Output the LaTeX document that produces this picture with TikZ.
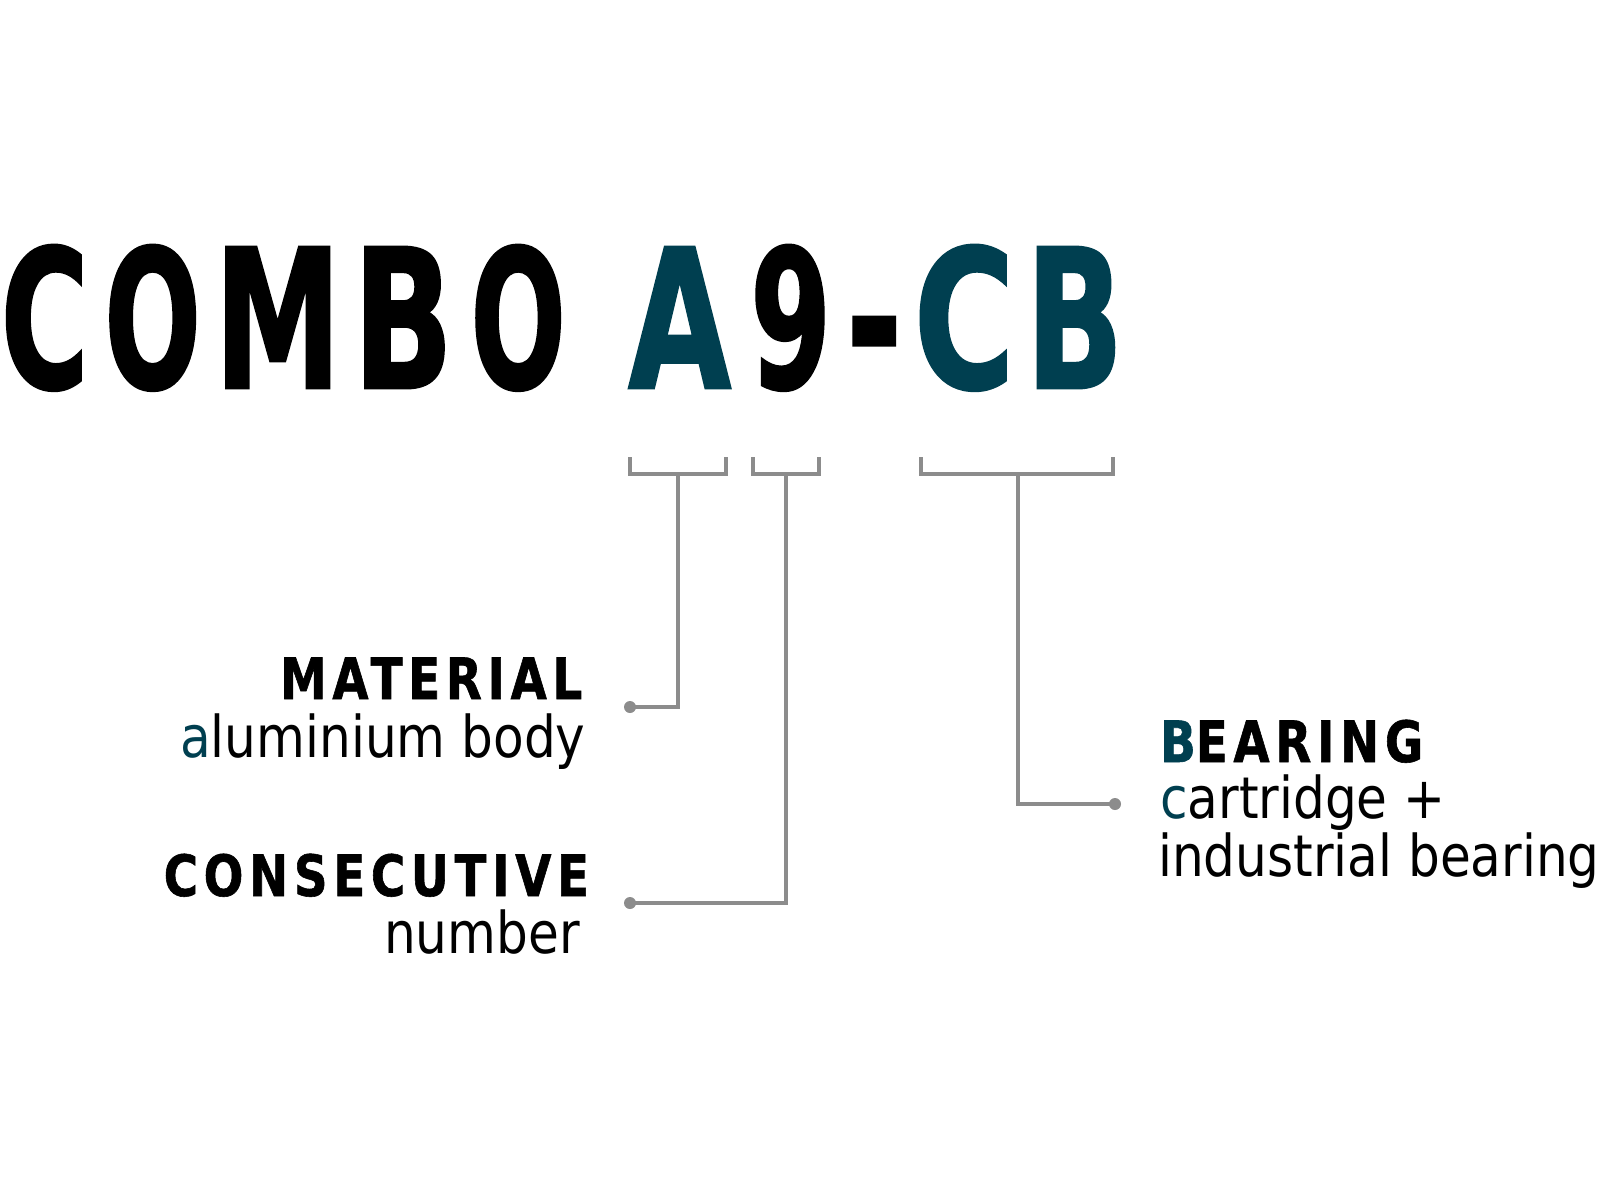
\documentclass[tikz,border=0pt]{standalone}
\usepackage{fontspec}
\usepackage{graphicx}
\newfontfamily\bigfont{DejaVu Sans}[FakeBold=1.5]
\newfontfamily\hdfont{DejaVu Sans}[FakeStretch=0.82,LetterSpace=10,FakeBold=1]
\newfontfamily\txfont{DejaVu Sans}[FakeStretch=0.87]
\definecolor{teal}{HTML}{003F50}
\definecolor{linegray}{HTML}{8C8C8C}
\newcommand\tlet[4]{\rlap{\hspace*{#1pt}\resizebox{#2pt}{#3pt}{#4}}}
\tikzset{
  brk/.style={draw=linegray, line width=3.4pt, line join=miter},
  dotn/.style={circle, fill=linegray, inner sep=0pt, minimum size=12pt},
  hdtext/.style={anchor=base west, inner sep=0pt, font=\hdfont\bfseries\fontsize{57}{60}\selectfont},
  txtext/.style={anchor=base west, inner sep=0pt, font=\txfont\fontsize{57.6}{60}\selectfont},
}
\begin{document}
\begin{tikzpicture}[x=1pt,y=-1pt]
\fill[white] (0,0) rectangle (1600,1200);
\useasboundingbox (0,0) rectangle (1600,1200);

% title
\node[anchor=base west, inner sep=0pt] (title) at (0,388) {\bigfont\bfseries\fontsize{100}{100}\selectfont
\tlet{0}{88}{143}{C}%
\tlet{103.7}{96.6}{143}{O}%
\tlet{213.6}{126.8}{141}{M}%
\tlet{352.4}{100}{141}{B}%
\tlet{469.8}{95.4}{143}{O}%
\textcolor{teal}{\tlet{627.5}{103}{141}{A}}%
\tlet{749.4}{81.2}{143}{9}%
\tlet{845.2}{56.6}{71}{-}%
\textcolor{teal}{\tlet{913}{101}{143}{C}}%
\textcolor{teal}{\tlet{1025.1}{97.5}{141}{B}}%
};

% bracket coordinates
\coordinate (b1L) at (630,457);
\coordinate (b1R) at (726,457);
\coordinate (b1S) at (678,474);
\coordinate (b2L) at (753,457);
\coordinate (b2R) at (819,457);
\coordinate (b2S) at (786,474);
\coordinate (b3L) at (921,457);
\coordinate (b3R) at (1113,457);
\coordinate (b3S) at (1018,474);

\draw[brk] (b1L) |- (b1S) -| (b1R);
\draw[brk] (b2L) |- (b2S) -| (b2R);
\draw[brk] (b3L) |- (b3S) -| (b3R);

% dots
\node[dotn] (d1) at (630,707) {};
\node[dotn] (d2) at (630,903) {};
\node[dotn] (d3) at (1115,804) {};

\draw[brk] (b1S) |- (d1.center);
\draw[brk] (b2S) |- (d2.center);
\draw[brk] (b3S) |- (d3.center);

% labels
\node[hdtext] (mat) at (280,699) {MATERIAL};
\node[txtext] (matd) at (180,757) {\textcolor{teal}{a}luminium body};
\node[hdtext] (con) at (163.5,896) {CONSECUTIVE};
\node[txtext] (cond) at (384,953) {number};
\node[hdtext] (bea) at (1160,762) {\textcolor{teal}{B}EARING};
\node[txtext] (bead1) at (1160,818) {\textcolor{teal}{c}artridge +};
\node[txtext] (bead2) at (1158,876) {industrial bearing};
\end{tikzpicture}
\end{document}
